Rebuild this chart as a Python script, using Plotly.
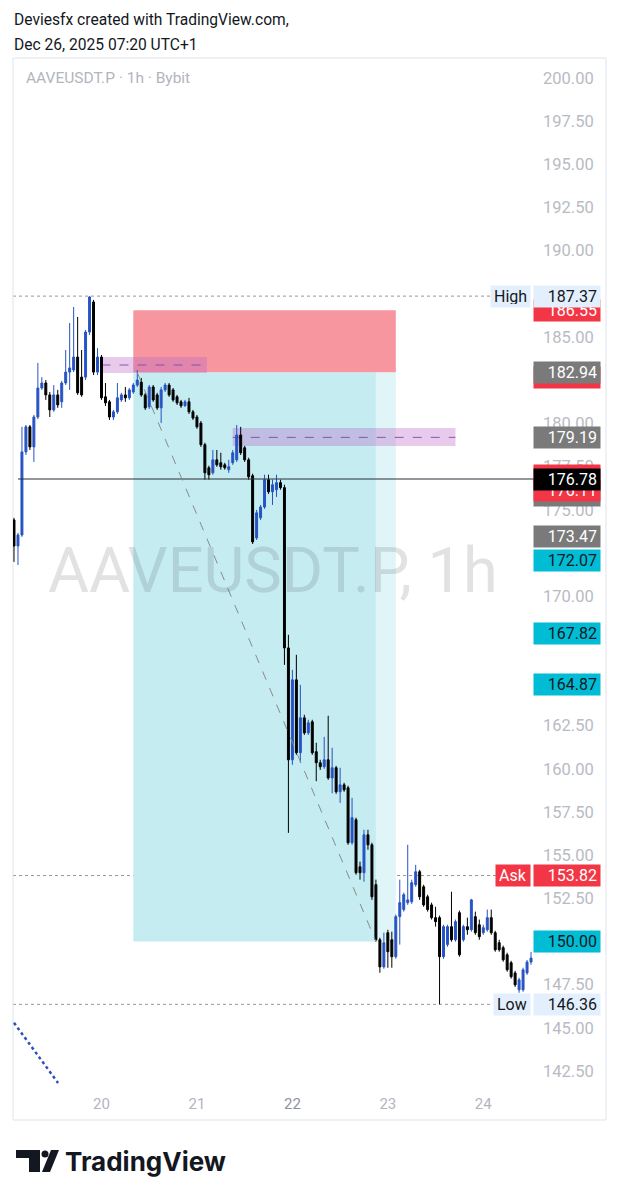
import plotly.graph_objects as go
import pandas as pd

# ---------------- data ----------------
header_lines = ["Deviesfx created with TradingView.com,", "Dec 26, 2025 07:20 UTC+1"]
symbol_title = "AAVEUSDT.P · 1h · Bybit"
watermark = "AAVEUSDT.P, 1h"
brand = "TradingView"

start_time = "2025-12-19 02:00"

opens = [174.41, 172.90, 173.54, 178.35, 179.80, 178.64, 180.37, 182.05, 182.34, 181.65,
         180.78, 181.65, 181.25, 182.34, 182.97, 183.09, 183.84, 182.68, 182.68, 185.29,
         187.03, 182.97, 183.84, 181.54, 181.25, 180.37, 180.67, 181.36, 181.65, 181.48,
         181.82, 182.22, 182.39, 181.65, 180.96, 182.11, 181.65, 180.90, 181.94, 182.22,
         181.94, 181.54, 181.25, 181.02, 181.25, 180.67, 180.37, 180.02, 178.77, 177.43,
         177.14, 177.89, 177.72, 177.60, 177.32, 177.72, 177.89, 179.33, 178.59, 177.89,
         176.97, 173.37, 174.53, 175.16, 176.74, 176.04, 176.16, 176.57, 176.28, 167.00,
         160.52, 165.15, 160.93, 162.95, 162.08, 162.72, 160.99, 160.35, 160.12, 160.52,
         159.47, 160.06, 158.67, 159.07, 158.90, 155.72, 157.05, 154.33, 153.98, 156.18,
         155.60, 153.29, 150.10, 148.53, 150.51, 150.10, 149.12, 151.44, 151.85, 152.25,
         152.30, 153.29, 154.04, 153.17, 152.59, 152.12, 151.38, 151.38, 149.12, 149.82,
         150.86, 150.10, 151.67, 150.10, 150.86, 150.68, 151.44, 150.97, 150.51, 150.68,
         151.38, 150.51, 149.93, 149.64, 149.23, 148.77, 148.18, 147.20, 147.20, 148.18,
         148.81]
highs = [174.53, 173.66, 179.80, 179.91, 179.91, 180.49, 183.50, 182.68, 182.51, 181.82,
         182.22, 181.94, 182.46, 184.25, 185.81, 186.74, 186.16, 184.25, 185.41, 187.37,
         187.15, 184.36, 183.96, 182.34, 181.36, 180.78, 182.34, 181.77, 182.11, 182.05,
         182.34, 183.09, 182.63, 181.77, 182.22, 182.22, 181.77, 182.11, 182.34, 182.34,
         182.05, 181.65, 181.36, 181.36, 181.48, 180.78, 180.49, 180.14, 178.88, 177.55,
         178.46, 178.46, 178.30, 177.72, 177.89, 178.46, 179.91, 179.80, 178.70, 178.01,
         177.09, 174.99, 175.28, 177.03, 177.03, 176.74, 177.03, 176.74, 176.45, 167.76,
         165.73, 166.60, 164.86, 163.13, 162.84, 162.84, 161.51, 160.52, 161.85, 163.07,
         161.22, 160.17, 160.06, 159.19, 159.02, 158.32, 157.17, 154.62, 156.47, 156.47,
         155.72, 153.58, 150.22, 150.51, 150.68, 150.57, 151.56, 153.58, 152.83, 155.60,
         153.58, 154.44, 154.15, 153.29, 152.71, 152.25, 152.01, 151.50, 150.97, 150.97,
         152.88, 151.27, 151.79, 150.97, 151.38, 152.47, 151.73, 151.27, 150.97, 151.85,
         151.85, 150.62, 150.10, 149.76, 149.35, 148.88, 148.30, 147.90, 148.48, 148.93,
         149.39]
lows = [171.98, 171.80, 173.43, 178.17, 178.46, 177.77, 180.25, 181.94, 181.36, 180.37,
        180.67, 180.90, 180.90, 182.22, 181.94, 182.97, 181.65, 181.54, 182.51, 185.12,
        182.80, 182.80, 181.36, 181.01, 180.20, 180.20, 180.55, 181.25, 181.25, 181.36,
        181.71, 182.11, 181.54, 180.78, 180.84, 181.25, 180.78, 180.02, 181.82, 181.54,
        181.25, 181.07, 180.90, 180.96, 180.55, 180.20, 179.69, 178.64, 176.74, 176.74,
        177.03, 177.49, 177.32, 177.32, 177.14, 177.60, 177.77, 178.17, 177.77, 176.74,
        173.02, 173.25, 174.41, 175.05, 175.92, 175.28, 175.74, 176.16, 166.02, 156.29,
        160.23, 160.81, 160.35, 161.96, 161.96, 160.81, 159.28, 159.94, 160.00, 159.36,
        158.58, 158.55, 158.03, 158.67, 155.60, 155.60, 153.87, 153.58, 153.46, 155.31,
        152.41, 149.99, 148.19, 148.42, 148.48, 148.48, 149.00, 149.82, 151.73, 152.12,
        152.18, 153.17, 152.41, 152.01, 151.73, 151.27, 150.86, 146.36, 149.00, 149.70,
        149.99, 149.99, 149.12, 149.99, 150.39, 150.57, 150.39, 150.10, 150.39, 150.57,
        150.39, 149.41, 149.41, 148.83, 148.25, 147.85, 147.37, 147.03, 147.09, 148.07,
        148.65]
closes = [172.90, 173.54, 178.35, 179.80, 178.64, 180.37, 182.05, 182.34, 181.65, 180.78,
          181.65, 181.07, 182.34, 182.97, 183.21, 183.84, 181.77, 181.65, 185.29, 187.32,
          182.97, 183.84, 181.48, 181.19, 180.37, 180.67, 181.48, 181.65, 181.48, 181.94,
          182.22, 182.51, 181.65, 180.90, 182.11, 181.36, 180.90, 181.94, 182.22, 181.65,
          181.36, 181.19, 181.02, 181.25, 180.67, 180.31, 179.80, 178.77, 177.14, 177.03,
          177.89, 177.60, 177.49, 177.43, 177.49, 178.30, 179.33, 178.30, 177.89, 176.91,
          173.14, 174.82, 175.16, 176.74, 176.04, 176.45, 176.57, 176.28, 167.00, 160.52,
          165.15, 160.93, 162.95, 162.08, 162.66, 160.93, 160.35, 160.12, 160.52, 159.47,
          160.06, 158.67, 159.07, 158.78, 155.72, 157.17, 153.98, 153.98, 156.18, 155.60,
          152.59, 150.10, 148.53, 149.93, 149.41, 149.12, 151.44, 152.25, 152.71, 152.41,
          153.40, 154.04, 152.59, 152.12, 151.85, 151.38, 151.15, 149.12, 150.86, 150.86,
          150.10, 151.15, 149.23, 150.86, 150.68, 152.41, 150.51, 150.28, 150.80, 151.38,
          150.51, 149.52, 149.52, 148.94, 148.36, 147.96, 147.49, 147.78, 148.36, 148.81,
          149.04]

day_ticks = ["2025-12-20", "2025-12-21", "2025-12-22", "2025-12-23", "2025-12-24"]
day_labels = ["20", "21", "<span style='color:#8f929b'>22</span>", "23", "24"]

# price-scale labels that are visible (others are covered by tags)
price_ticks = [142.5, 145.0, 147.5, 152.5, 155.0, 157.5, 160.0, 162.5,
               170.0, 175.0, 177.5, 180.0, 185.0, 190.0,
               192.5, 195.0, 197.5, 200.0]

# short position tool
pos_start = "2025-12-20 08:00"
pos_close = "2025-12-22 21:00"
pos_end = "2025-12-23 02:00"
entry_price = 182.94
stop_price = 186.55
target_price = 150.00
path_times = ["2025-12-20 09:00", "2025-12-22 21:00"]
path_prices = [182.94, 150.00]

# purple zones: (start, end, low, high, mid)
zone_starts = ["2025-12-20 00:00", "2025-12-21 09:00"]
zone_ends = ["2025-12-21 02:30", "2025-12-23 17:00"]
zone_lows = [182.92, 178.69]
zone_highs = [183.85, 179.73]
zone_mids = [183.38, 179.19]

level_price = 176.78
ask_price = 153.82

trend_times = ["2025-12-19 02:00", "2025-12-19 13:05"]
trend_prices = [145.29, 141.81]

RED = "#f23645"
GRAY = "#7a7a7a"
CYAN = "#00bcd4"
LIGHT = "#e3effd"
INK = "#131722"

# axis tags: price, text, bg, fg, yshift
tag_prices = [186.55, 187.37, 182.94, 182.94, 179.19, 175.85, 176.11, 176.78, 176.78,
              173.47, 172.07, 167.82, 164.87, 153.82, 150.00, 146.36]
tag_texts = ["186.55", "187.37", " ", "182.94", "179.19", " ", "176.11", " ", "176.78",
             "173.47", "172.07", "167.82", "164.87", "153.82", "150.00", "146.36"]
tag_bgs = [RED, LIGHT, RED, GRAY, GRAY, GRAY, RED, RED, "#000000",
           GRAY, CYAN, CYAN, CYAN, RED, CYAN, LIGHT]
tag_fgs = ["white", INK, "white", "white", "white", "white", "white", "white", "white",
           "white", INK, INK, INK, "white", INK, INK]
tag_shifts = [0, 0, -5, 0, 0, 0, 0, 4, 0, 0, 0, 0, 0, 0, 0, 0]

side_texts = ["High", "Ask", "Low"]
side_prices = [max(highs), ask_price, min(lows)]
side_bgs = [LIGHT, RED, LIGHT]
side_fgs = [INK, "white", INK]

# ---------------- figure ----------------
W, H = 620, 1200


def px(x):
    return x / W


def py(y):
    return 1 - y / H


times = pd.date_range(start_time, periods=len(opens), freq="h")
BLUE = "#2753c4"

fig = go.Figure()
fig.add_trace(go.Candlestick(
    x=times, open=opens, high=highs, low=lows, close=closes,
    increasing=dict(line=dict(color=BLUE, width=1), fillcolor=BLUE),
    decreasing=dict(line=dict(color="#000000", width=1), fillcolor="#000000"),
    whiskerwidth=0, showlegend=False, hoverinfo="skip"))

fig.add_trace(go.Scatter(x=[times[1], "2025-12-24 13:00"], y=[level_price, level_price],
                         mode="lines", line=dict(color="#2a2e39", width=1.2),
                         showlegend=False, hoverinfo="skip", cliponaxis=False))
fig.add_trace(go.Scatter(x=path_times, y=path_prices, mode="lines",
                         line=dict(color="#8a8a8a", width=1, dash="dash"),
                         showlegend=False, hoverinfo="skip"))
fig.add_trace(go.Scatter(x=trend_times, y=trend_prices, mode="lines",
                         line=dict(color="#2f4fc0", width=2.5, dash="dot"),
                         showlegend=False, hoverinfo="skip"))

shapes = []
# position tool
shapes.append(dict(type="rect", xref="x", yref="y", x0=pos_start, x1=pos_end,
                   y0=entry_price, y1=stop_price, fillcolor="#f7969f", line=dict(width=0), layer="below"))
shapes.append(dict(type="rect", xref="x", yref="y", x0=pos_start, x1=pos_close,
                   y0=target_price, y1=entry_price, fillcolor="#c4ecf1", line=dict(width=0), layer="below"))
shapes.append(dict(type="rect", xref="x", yref="y", x0=pos_close, x1=pos_end,
                   y0=target_price, y1=entry_price, fillcolor="#e0f5f8", line=dict(width=0), layer="below"))
for s, e, lo, hi, mid in zip(zone_starts, zone_ends, zone_lows, zone_highs, zone_mids):
    shapes.append(dict(type="rect", xref="x", yref="y", x0=s, x1=e, y0=lo, y1=hi,
                       fillcolor="rgba(186,104,200,0.35)", line=dict(width=0), layer="below"))
    shapes.append(dict(type="line", xref="x", yref="y", x0=s, x1=e, y0=mid, y1=mid,
                       line=dict(color="rgba(120,70,160,0.85)", width=1, dash="dash"), layer="below"))
# dotted level lines
for p, xe in zip(side_prices, [490, 496, 492]):
    shapes.append(dict(type="line", xref="paper", yref="y", x0=px(13), x1=px(xe), y0=p, y1=p,
                       line=dict(color="#9598a1", width=1, dash="dot"), layer="below"))
# container
shapes.append(dict(type="rect", xref="paper", yref="paper", x0=px(13), x1=px(606),
                   y0=py(1120), y1=py(58), line=dict(color="#e0e3eb", width=1), layer="below"))


# logo
def path(pts):
    return "M" + " L".join(f"{px(a):.5f},{py(b):.5f}" for a, b in pts) + " Z"


shapes.append(dict(type="path", xref="paper", yref="paper",
                   path=path([(16, 1150), (40, 1150), (40, 1172), (29, 1172), (29, 1158), (16, 1158)]),
                   fillcolor="#131722", line=dict(width=0)))
shapes.append(dict(type="circle", xref="paper", yref="paper", x0=px(41.5), x1=px(48.5),
                   y0=py(1157.5), y1=py(1150.5), fillcolor="#131722", line=dict(width=0)))
shapes.append(dict(type="path", xref="paper", yref="paper",
                   path=path([(51, 1150), (59, 1150), (50, 1172), (42, 1172)]),
                   fillcolor="#131722", line=dict(width=0)))

ann = []
ann.append(dict(text=watermark, xref="paper", yref="paper", x=px(273), y=py(570),
                showarrow=False, font=dict(family="Roboto", size=63, color="rgba(60,60,70,0.15)")))
for i, line in enumerate(header_lines):
    ann.append(dict(text=line, xref="paper", yref="paper", x=px(12), y=py(20 + 25 * i),
                    xanchor="left", yanchor="middle", showarrow=False,
                    font=dict(family="Roboto", size=15.6, color=INK)))
ann.append(dict(text=symbol_title, xref="paper", yref="paper", x=px(24), y=py(78),
                xanchor="left", yanchor="middle", showarrow=False,
                font=dict(family="Roboto", size=15.5, color="#b2b5be")))
ann.append(dict(text=brand, xref="paper", yref="paper", x=px(63), y=py(1161),
                xanchor="left", yanchor="middle", showarrow=False,
                font=dict(family="Inter", size=26, color=INK, weight="bold")))
for p, t, bg, fg, sh in zip(tag_prices, tag_texts, tag_bgs, tag_fgs, tag_shifts):
    ann.append(dict(text=t, xref="paper", yref="y", x=px(567), y=p, yshift=sh,
                    xanchor="center", yanchor="middle", showarrow=False,
                    width=60, height=15, borderpad=3, align="right", bgcolor=bg,
                    font=dict(family="Roboto", size=16, color=fg)))
for p, t, bg, fg in zip(side_prices, side_texts, side_bgs, side_fgs):
    ann.append(dict(text=t, xref="paper", yref="y", x=px(531), y=p,
                    xanchor="right", yanchor="middle", showarrow=False,
                    height=15, borderpad=3, bgcolor=bg,
                    font=dict(family="Roboto", size=16, color=fg)))

fig.update_layout(
    width=W, height=H, autosize=False,
    margin=dict(l=0, r=0, t=0, b=0, pad=0),
    paper_bgcolor="white", plot_bgcolor="white",
    shapes=shapes, annotations=ann, showlegend=False,
    xaxis=dict(type="date", domain=[px(13), px(535)],
               range=["2025-12-19 01:45", "2025-12-24 13:00"],
               tickvals=day_ticks, ticktext=day_labels, showgrid=False, zeroline=False,
               showline=False, ticks="", rangeslider=dict(visible=False),
               ticklabelstandoff=5,
               tickfont=dict(family="Roboto", size=15, color="#b2b5be")),
    yaxis=dict(domain=[py(1088), py(58)], range=[141.517, 201.158], side="right",
               tickvals=price_ticks, ticktext=[f"{v:.2f}" for v in price_ticks],
               showgrid=False, zeroline=False, showline=False, ticks="",
               ticklabelstandoff=7,
               tickfont=dict(family="Roboto", size=16.5, color="#b8bbc3")),
)

fig.write_html("out.html", config=dict(displayModeBar=False),
               post_script="document.body.style.margin='0px';document.body.style.overflow='hidden';")
